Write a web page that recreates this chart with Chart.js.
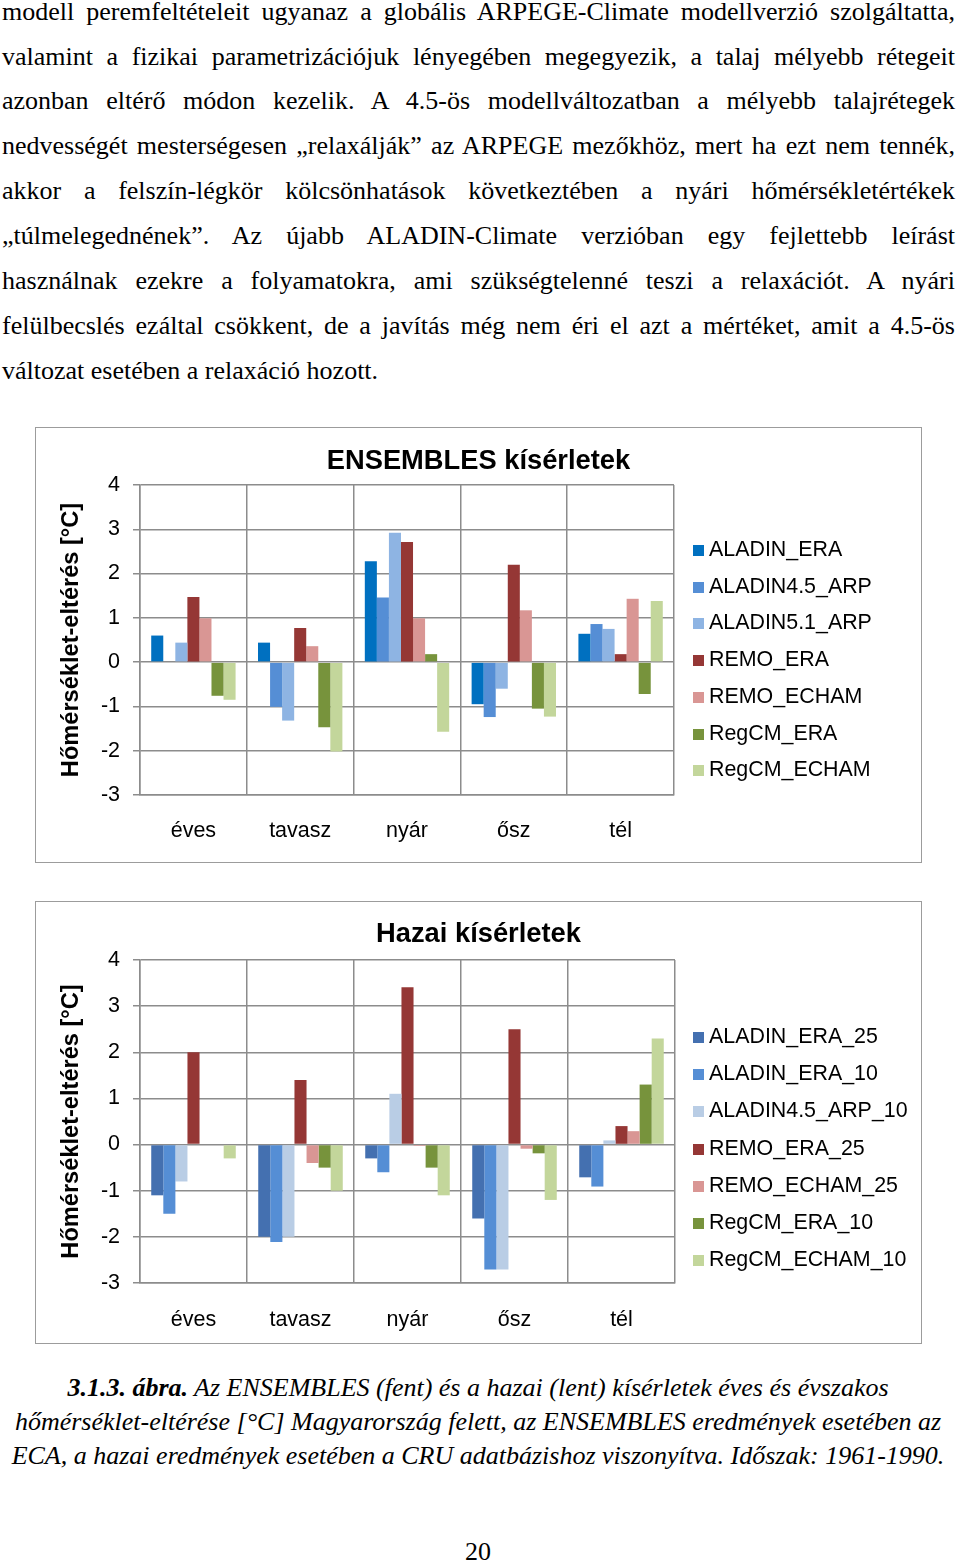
<!DOCTYPE html>
<html lang="hu">
<head>
<meta charset="utf-8">
<title>ENSEMBLES és hazai kísérletek</title>
<script src="https://cdn.jsdelivr.net/npm/chart.js@4/dist/chart.umd.min.js"></script>
<style>
  html, body { margin: 0; padding: 0; background: #fff; }
  body { position: relative; width: 960px; height: 1565px; overflow: hidden; font-family: "Liberation Serif", "Times New Roman", serif; color: #000; }
  .line { position: absolute; left: 2px; width: 953px; height: 30px; line-height: 30px; font-size: 26px; white-space: nowrap; text-align: justify; text-align-last: justify; }
  .line.last { text-align: left; text-align-last: left; }
  .box { position: absolute; left: 35px; width: 887px; border: 1.5px solid #9c9c9c; box-sizing: border-box; }
  canvas.chart { position: absolute; left: 35px; }
  .legend { position: absolute; left: 693px; font-family: "Liberation Sans", Arial, sans-serif; font-size: 21.4px; }
  .legend div { position: absolute; left: 0; height: 24px; line-height: 24px; white-space: nowrap; }
  .legend span { display: inline-block; width: 11px; height: 11px; margin-right: 5px; vertical-align: 0px; }
  .cap { position: absolute; left: 0; width: 956px; text-align: center; font-style: italic; font-size: 26px; height: 30px; line-height: 30px; white-space: nowrap; }
</style>
</head>
<body>

<div class="line" style="top:-3px">modell peremfeltételeit ugyanaz a globális ARPEGE-Climate modellverzió szolgáltatta,</div>
<div class="line" style="top:42px">valamint a fizikai parametrizációjuk lényegében megegyezik, a talaj mélyebb rétegeit</div>
<div class="line" style="top:86px">azonban eltérő módon kezelik. A 4.5-ös modellváltozatban a mélyebb talajrétegek</div>
<div class="line" style="top:131px">nedvességét mesterségesen „relaxálják” az ARPEGE mezőkhöz, mert ha ezt nem tennék,</div>
<div class="line" style="top:176px">akkor a felszín-légkör kölcsönhatások következtében a nyári hőmérsékletértékek</div>
<div class="line" style="top:221px">„túlmelegednének”. Az újabb ALADIN-Climate verzióban egy fejlettebb leírást</div>
<div class="line" style="top:266px">használnak ezekre a folyamatokra, ami szükségtelenné teszi a relaxációt. A nyári</div>
<div class="line" style="top:311px">felülbecslés ezáltal csökkent, de a javítás még nem éri el azt a mértéket, amit a 4.5-ös</div>
<div class="line last" style="top:356px">változat esetében a relaxáció hozott.</div>

<div class="box" style="top:427px; height:436px"></div>
<canvas id="ensembles" class="chart" style="top:427px" width="887" height="435"></canvas>
<div id="legend1" class="legend" style="top:0"></div>

<div class="box" style="top:901px; height:443px"></div>
<canvas id="hazai" class="chart" style="top:901px" width="887" height="442"></canvas>
<div id="legend2" class="legend" style="top:0"></div>

<div class="cap" style="top:1373px"><b>3.1.3. ábra.</b> Az ENSEMBLES (fent) és a hazai (lent) kísérletek éves és évszakos</div>
<div class="cap" style="top:1407px">hőmérséklet-eltérése [°C] Magyarország felett, az ENSEMBLES eredmények esetében az</div>
<div class="cap" style="top:1441px">ECA, a hazai eredmények esetében a CRU adatbázishoz viszonyítva. Időszak: 1961-1990.</div>
<div class="cap" style="top:1537px; font-style:normal">20</div>

<script>
// evszakok
const categories = ['éves', 'tavasz', 'nyár', 'ősz', 'tél'];
const yMin = -3;
const yMax = 4;

// ENSEMBLES kiserletek, elteres [°C]
const ensNames = ['ALADIN_ERA', 'ALADIN4.5_ARP', 'ALADIN5.1_ARP', 'REMO_ERA', 'REMO_ECHAM', 'RegCM_ERA', 'RegCM_ECHAM'];
const ensColors = ['#0070C0', '#558ED5', '#8EB4E3', '#953735', '#D99694', '#77933C', '#C3D69B'];
const aladinEra = [0.60, 0.44, 2.28, -0.95, 0.64];
const aladin45Arp = [0.00, -1.01, 1.46, -1.24, 0.86];
const aladin51Arp = [0.44, -1.32, 2.92, -0.60, 0.75];
const remoEra = [1.47, 0.77, 2.71, 2.20, 0.18];
const remoEcham = [0.99, 0.36, 0.99, 1.17, 1.43];
const regcmEra = [-0.76, -1.47, 0.18, -1.05, -0.72];
const regcmEcham = [-0.85, -2.02, -1.57, -1.23, 1.38];

// hazai kiserletek
const hazNames = ['ALADIN_ERA_25', 'ALADIN_ERA_10', 'ALADIN4.5_ARP_10', 'REMO_ERA_25', 'REMO_ECHAM_25', 'RegCM_ERA_10', 'RegCM_ECHAM_10'];
const hazColors = ['#4470B0', '#558ED5', '#B9CDE5', '#953735', '#D99694', '#77933C', '#C3D69B'];
const aladinEra25 = [-1.10, -2.00, -0.30, -1.60, -0.71];
const aladinEra10 = [-1.50, -2.11, -0.60, -2.71, -0.91];
const aladin45Arp10 = [-0.80, -2.00, 1.10, -2.71, 0.09];
const remoEra25 = [2.00, 1.40, 3.41, 2.50, 0.40];
const remoEcham25 = [0.00, -0.40, -0.03, -0.09, 0.29];
const regcmEra10 = [0.00, -0.50, -0.50, -0.19, 1.30];
const regcmEcham10 = [-0.30, -1.00, -1.10, -1.20, 2.30];

const sans = '"Liberation Sans", Arial, sans-serif';
const gridColor = '#8c8c8c';

function makeChart(id, title, names, colors, series, layout) {
  const datasets = series.map((values, i) => ({
    label: names[i],
    data: values,
    backgroundColor: colors[i],
    borderWidth: 0,
    categoryPercentage: 0.79,
    barPercentage: 1.0,
  }));

  return new Chart(document.getElementById(id), {
    type: 'bar',
    data: { labels: categories, datasets },
    options: {
      responsive: false,
      animation: false,
      layout: { padding: 0 },
      plugins: {
        legend: { display: false },
        tooltip: { enabled: false },
        title: {
          display: true,
          text: title,
          color: '#000',
          font: { family: sans, size: 27.3, weight: 'bold' },
          padding: { top: layout.titleTop, bottom: layout.titleBottom },
        },
      },
      scales: {
        x: {
          grid: { color: gridColor, lineWidth: 1.5, offset: true, drawTicks: false },
          border: { color: gridColor, width: 1.5 },
          ticks: { color: '#000', font: { family: sans, size: 21.5 }, padding: layout.xPad },
          afterFit: (scale) => { scale.height = layout.xHeight; },
        },
        y: {
          min: yMin,
          max: yMax,
          grid: { color: gridColor, lineWidth: 1.5, tickLength: 7 },
          border: { color: gridColor, width: 1.5 },
          ticks: { stepSize: 1, color: '#000', font: { family: sans, size: 21.5 }, padding: 13 },
          title: {
            display: true,
            text: 'Hőmérséklet-eltérés [°C]',
            color: '#000',
            font: { family: sans, size: 23.6, weight: 'bold' },
            padding: { top: 22, bottom: 0 },
          },
          afterFit: (scale) => { scale.width = 105; },
        },
        // ures jobb oldali sav a jelmagyarazatnak
        side: {
          type: 'linear',
          position: 'right',
          min: 0,
          max: 1,
          grid: { display: false },
          border: { display: false },
          ticks: { display: false },
          afterFit: (scale) => { scale.width = layout.right; },
        },
      },
    },
  });
}

function makeLegend(id, names, colors, firstY, step) {
  const el = document.getElementById(id);
  names.forEach((name, i) => {
    const row = document.createElement('div');
    row.style.top = (firstY + i * step - 11) + 'px';
    row.innerHTML = '<span style="background:' + colors[i] + '"></span>' + name;
    el.appendChild(row);
  });
}

makeChart('ensembles', 'ENSEMBLES kísérletek', ensNames, ensColors,
  [aladinEra, aladin45Arp, aladin51Arp, remoEra, remoEcham, regcmEra, regcmEcham],
  { right: 248, titleTop: 17.6, titleBottom: 7.6, xHeight: 67, xPad: 23 });

makeChart('hazai', 'Hazai kísérletek', hazNames, hazColors,
  [aladinEra25, aladinEra10, aladin45Arp10, remoEra25, remoEcham25, regcmEra10, regcmEcham10],
  { right: 247, titleTop: 16.6, titleBottom: 9.6, xHeight: 60, xPad: 24 });

makeLegend('legend1', ensNames, ensColors, 548, 36.7);
makeLegend('legend2', hazNames, hazColors, 1035, 37.2);
</script>
</body>
</html>
